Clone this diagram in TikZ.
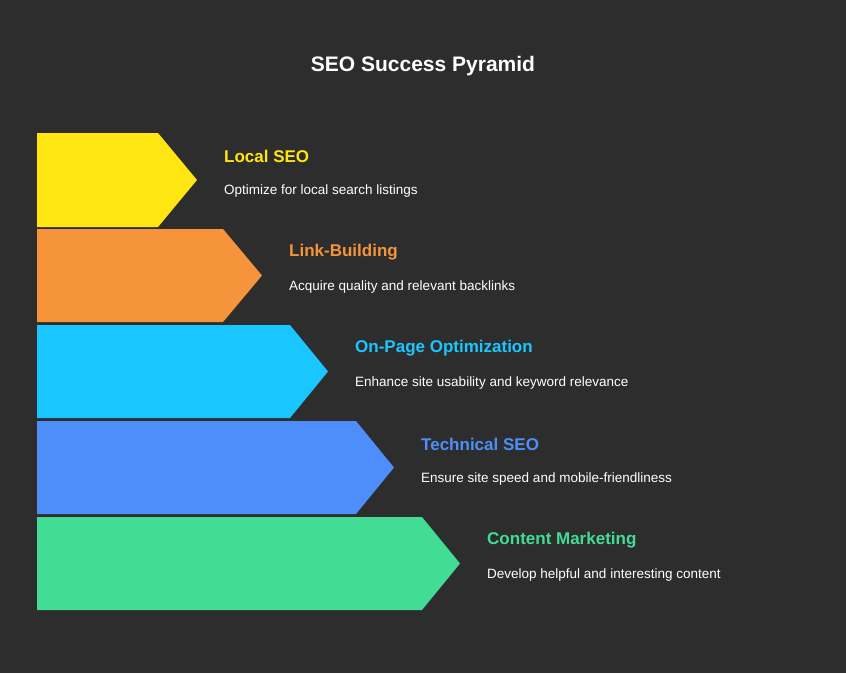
\documentclass[tikz,border=0pt]{standalone}
\usepackage{fontspec}
\setmainfont{Liberation Sans}
\definecolor{bg}{HTML}{2D2D2D}
\definecolor{cy}{HTML}{FFE512}
\definecolor{co}{HTML}{F5943A}
\definecolor{cc}{HTML}{1AC6FF}
\definecolor{cb}{HTML}{4D8EFA}
\definecolor{cg}{HTML}{42DD94}
\begin{document}
\begin{tikzpicture}[x=1pt,y=-1pt,
  ttl/.style={anchor=west,font=\bfseries\fontsize{17}{20}\selectfont,inner sep=0},
  dsc/.style={anchor=west,text=white,font=\fontsize{13.5}{16}\selectfont,inner sep=0}]
\fill[bg] (0,0) rectangle (846,673);
\useasboundingbox (0,0) rectangle (846,673);
\node[text=white,font=\bfseries\fontsize{21}{25}\selectfont] (t) at (423,66) {SEO Success Pyramid};
\foreach \c/\x/\p/\ya/\yb/\n/\d [count=\i] in {
 cy/158/197/133/227/Local SEO/Optimize for local search listings,
 co/223/262/229/322/Link-Building/Acquire quality and relevant backlinks,
 cc/290/328/325/418/On-Page Optimization/Enhance site usability and keyword relevance,
 cb/356/394/421/514/Technical SEO/Ensure site speed and mobile-friendliness,
 cg/422/460/517/610/Content Marketing/Develop helpful and interesting content}{
 \fill[\c] (37,\ya) -- (\x,\ya) -- (\p,{(\ya+\yb)/2}) -- (\x,\yb) -- (37,\yb) -- cycle;
 \node[ttl,text=\c] (n\i) at ({\p+27},{\ya+23}) {\n};
 \node[dsc] (d\i) at ({\p+27},{\ya+58}) {\d};
}
\end{tikzpicture}
\end{document}
